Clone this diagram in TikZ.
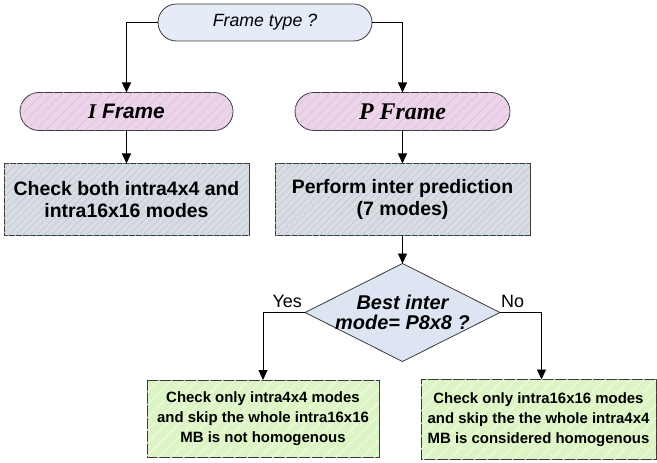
\documentclass[tikz,border=0pt]{standalone}
\usepackage{fontspec}
\setmainfont{Liberation Sans}
\newfontfamily\timesf{Liberation Serif}
\usepackage{tikz}
\usetikzlibrary{shapes.geometric, shapes.misc, arrows.meta, positioning, patterns.meta}

\definecolor{ftblue}{HTML}{E5ECF7}
\definecolor{diablue}{HTML}{DEE5F2}
\definecolor{pillpink}{HTML}{EFD3E9}
\definecolor{pillhatch}{HTML}{C8C8E6}
\definecolor{boxgray}{HTML}{D8DCE3}
\definecolor{boxhatch}{HTML}{C2C7D3}
\definecolor{boxgreen}{HTML}{DDF5C5}
\definecolor{greenhatch}{HTML}{F2FBE8}
\definecolor{edge}{HTML}{3A3A3A}

\begin{document}
\begin{tikzpicture}[x=1bp, y=-1bp,
    node distance=30bp,
    term/.style={rounded rectangle, draw=edge, line width=0.8bp, fill=ftblue, minimum width=214bp, minimum height=37bp, inner sep=0pt, outer sep=0pt, font=\fontsize{17.8}{20}\selectfont\itshape},
    pill/.style={rounded rectangle, draw=edge, line width=0.8bp, fill=pillpink, postaction={pattern={Lines[angle=45,distance=7bp,line width=0.6bp]}, pattern color=pillhatch}, minimum height=38bp, inner sep=0pt, outer sep=0pt, font=\fontsize{21}{24}\selectfont\bfseries\itshape},
    procbox/.style={rectangle, draw=edge, line width=0.8bp, fill=boxgray, postaction={pattern={Lines[angle=45,distance=5bp,line width=0.6bp]}, pattern color=boxhatch}, minimum height=72bp, align=center, inner sep=0pt, outer sep=0pt, font=\fontsize{19.5}{22}\selectfont\bfseries},
    decide/.style={diamond, aspect=2, draw=edge, line width=0.8bp, fill=diablue, minimum width=195bp, minimum height=98bp, align=center, inner sep=-14bp, outer sep=0pt, font=\fontsize{20}{20}\selectfont\bfseries\itshape},
    leafbox/.style={rectangle, draw=edge, line width=0.8bp, fill=boxgreen, postaction={pattern={Lines[angle=45,distance=9bp,line width=0.8bp]}, pattern color=greenhatch}, align=center, inner sep=0pt, outer sep=0pt, font=\fontsize{15}{20}\selectfont\bfseries},
    line/.style={draw, -{Triangle[length=10bp,width=9bp]}, line width=0.8bp},
    branch/.style={font=\fontsize{18}{20}\selectfont, inner sep=1bp}
    ]
    \useasboundingbox (0,0) rectangle (657,463);

    % nodes
    \node[term] (ftype) at (265,22.5) {Frame type ?};
    \node[pill, minimum width=213bp] (iframe) at (126.5,111.5) {{\timesf I} Frame};
    \node[pill, minimum width=215bp, right=62bp of iframe, font=\fontsize{24}{26}\selectfont\timesf\bfseries\itshape] (pframe) {P Frame};
    \node[procbox, minimum width=245bp, below=33bp of iframe] (ibox) {Check both intra4x4 and\\intra16x16 modes};
    \node[procbox, minimum width=255bp, below=33bp of pframe] (pbox) {Perform inter prediction\\(7 modes)};
    \node[decide, below=28bp of pbox] (dia) {Best inter\\mode= P8x8 ?};
    \node[leafbox, minimum width=232bp, minimum height=77bp] (lbox) at (263,418.5) {Check only intra4x4 modes\\and skip the whole intra16x16\\MB is not homogenous};
    \node[leafbox, minimum width=235bp, minimum height=80bp] (rbox) at (538.5,419.5) {Check only intra16x16 modes\\and skip the the whole intra4x4\\MB is considered homogenous};

    % lines
    \path[line] (ftype.west) -| (iframe.north);
    \path[line] (ftype.east) -| (pframe.north);
    \path[line] (iframe.south) -- (ibox.north);
    \path[line] (pframe.south) -- (pbox.north);
    \path[line] (pbox.south) -- (dia.north);
    \path[line] (dia.west) -| (lbox.north);
    \path[line] (dia.east) -| ([xshift=3bp]rbox.north);
    \node[branch, anchor=south east] (yes) at ([xshift=-2bp,yshift=4bp]dia.west) {Yes};
    \node[branch, anchor=south west] (no) at ([yshift=4bp]dia.east) {No};

\end{tikzpicture}
\end{document}
